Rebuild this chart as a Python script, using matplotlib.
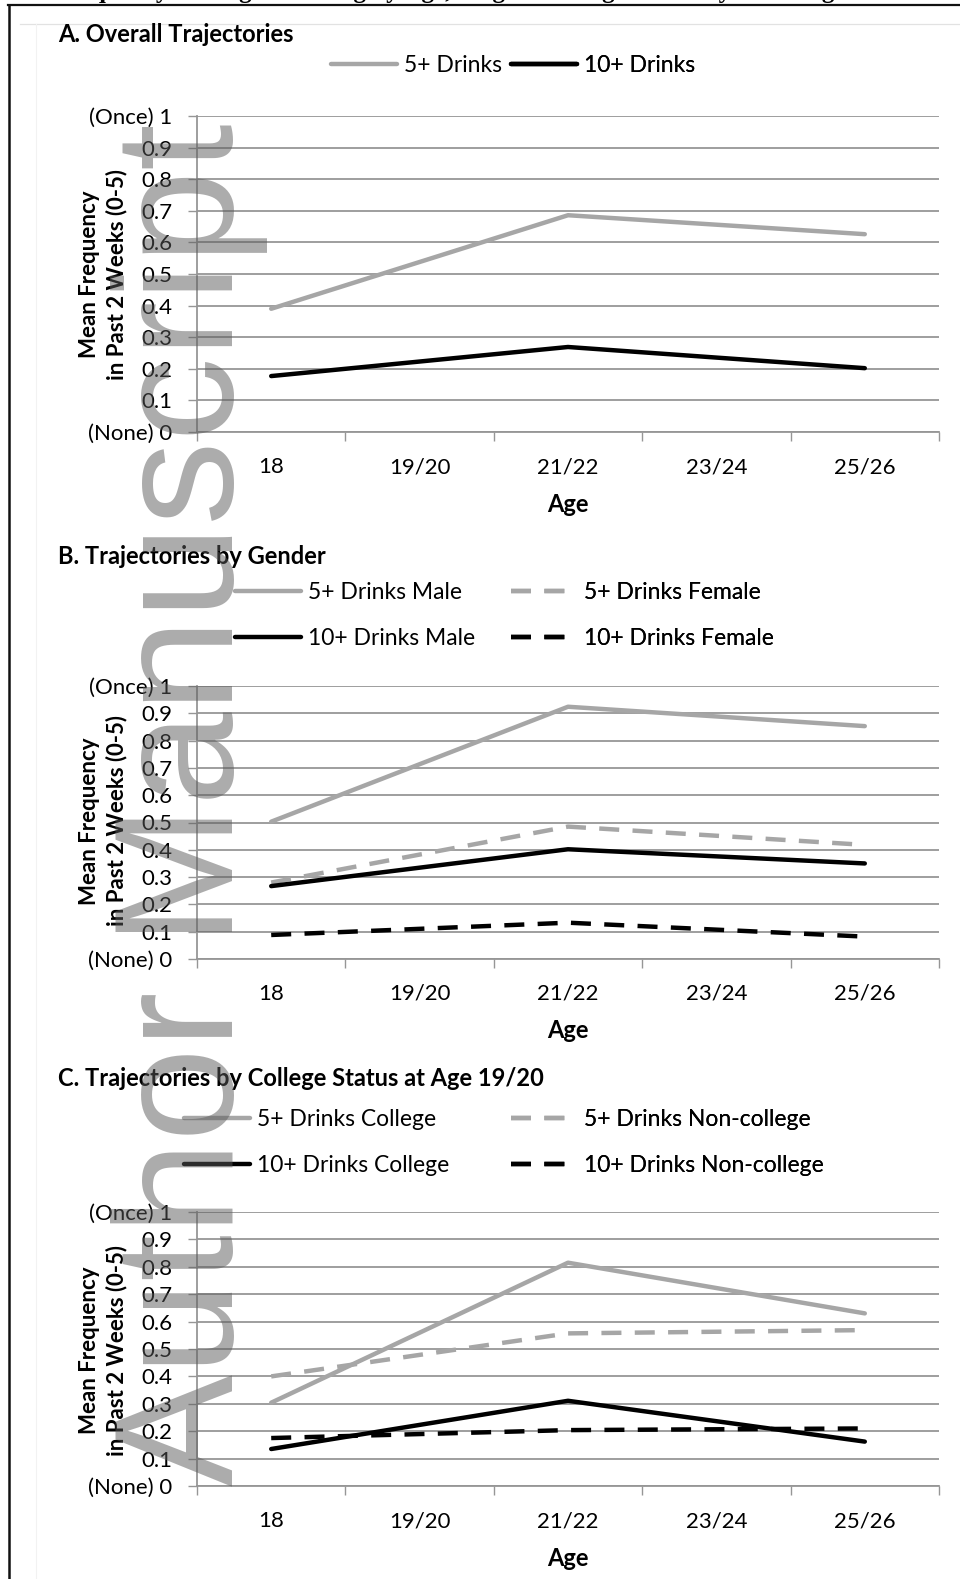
import numpy as np
import matplotlib
matplotlib.use('Agg')
import matplotlib.pyplot as plt
from matplotlib.lines import Line2D

W, H = 960, 1579

# age categories on the x axis, and the survey waves that carry data
ages = ['18', '19/20', '21/22', '23/24', '25/26']
waves = ['18', '21/22', '25/26']

ytick_vals = [0, 0.1, 0.2, 0.3, 0.4, 0.5, 0.6, 0.7, 0.8, 0.9, 1]
ytick_text = ['(None) 0', '0.1', '0.2', '0.3', '0.4', '0.5', '0.6', '0.7', '0.8', '0.9', '(Once) 1']

# A. overall
a_5plus = [0.39, 0.686, 0.626]
a_10plus = [0.177, 0.269, 0.202]

# B. by gender
b_5_male = [0.503, 0.924, 0.853]
b_5_female = [0.28, 0.485, 0.418]
b_10_male = [0.267, 0.402, 0.35]
b_10_female = [0.088, 0.133, 0.082]

# C. by college status at 19/20
c_5_college = [0.304, 0.815, 0.63]
c_5_noncol = [0.40, 0.557, 0.569]
c_10_college = [0.135, 0.311, 0.162]
c_10_noncol = [0.175, 0.204, 0.21]

GRAY = '#a6a6a6'
BLACK = '#000000'
GRID = '#969696'
DASH = (0, (4.5, 3.0))
FONT = 'Lato'

plt.rcParams['font.family'] = [FONT, 'DejaVu Sans']


def fx(px):
    return px / W


def fy(py):
    return 1 - py / H


def make_axes(fig, top, bottom, left=197, right=939):
    ax = fig.add_axes([fx(left), fy(bottom), (right - left) / W, (bottom - top) / H])
    ax.set_xlim(-0.5, len(ages) - 0.5)
    ax.set_ylim(0, 1)
    for side in ('top', 'right'):
        ax.spines[side].set_visible(False)
    for side in ('left', 'bottom'):
        ax.spines[side].set_color(GRID)
        ax.spines[side].set_linewidth(1.3)
    ax.set_yticks(ytick_vals)
    ax.set_yticklabels(ytick_text, fontsize=16)
    ax.tick_params(axis='y', length=6.5, width=1.0, color=GRID, pad=11)
    ax.yaxis.grid(True, color=GRID, linewidth=1.3)
    ax.set_axisbelow(True)
    # boundaries between categories get ticks, the labels sit on the centres
    ax.set_xticks(np.arange(len(ages) + 1) - 0.5)
    ax.set_xticklabels([])
    ax.tick_params(axis='x', which='major', length=6.5, width=1.0, color=GRID)
    ax.set_xticks(np.arange(len(ages)), minor=True)
    ax.set_xticklabels(ages, minor=True, fontsize=16)
    ax.tick_params(axis='x', which='minor', length=0, pad=18)
    return ax


def draw(ax, values, color, dashed=False):
    xs = [ages.index(w) for w in waves]
    kw = dict(color=color, linewidth=3.2, solid_capstyle='round', solid_joinstyle='round')
    if dashed:
        kw.update(linestyle=DASH, dash_capstyle='butt')
    return ax.plot(xs, values, **kw)[0]


def legend_col(ax, handles, labels, x, y_top, spacing=1.0):
    leg = ax.legend(handles, labels, loc='upper left',
                    bbox_to_anchor=(fx(x), fy(y_top)), bbox_transform=ax.figure.transFigure,
                    frameon=False, fontsize=16.5, handlelength=2.9, handletextpad=0.3,
                    borderpad=0, borderaxespad=0, labelspacing=spacing)
    ax.add_artist(leg)
    return leg


def side_text(fig, yc, ya):
    fig.text(fx(103), fy(yc), 'Mean Frequency\nin Past 2 Weeks (0-5)', rotation=90,
             ha='center', va='center', multialignment='center', fontsize=16,
             fontweight='bold', linespacing=1.3)
    fig.text(fx(568), fy(ya), 'Age', ha='center', va='center', fontsize=17, fontweight='bold')


fig = plt.figure(figsize=(W / 100, H / 100), dpi=100)

# page framing: cut-off caption line above, black rule, faint chart border
fig.text(fx(55), fy(-2), 'Frequency of Binge Drinking by Age, Single and High-Intensity Drinking',
         family='Liberation Serif', fontweight='bold', fontsize=18, va='baseline', ha='left')
fig.add_artist(Line2D([fx(8), 1], [fy(5), fy(5)], color='#111111', linewidth=1.6))
fig.add_artist(Line2D([fx(9), fx(9)], [fy(5), 0], color='#111111', linewidth=1.8))
fig.add_artist(Line2D([fx(20), 1], [fy(24), fy(24)], color='#e2e2e2', linewidth=0.9))
fig.add_artist(Line2D([fx(36), fx(36)], [fy(24), 0], color='#f2f2f2', linewidth=0.8))

# ---- Panel A
axA = make_axes(fig, 116, 432)
hA5 = draw(axA, a_5plus, GRAY)
hA10 = draw(axA, a_10plus, BLACK)
fig.text(fx(58), fy(35), 'A. Overall Trajectories', fontsize=17, fontweight='bold', va='center')
legend_col(axA, [hA5], ['5+ Drinks'], 331, 55)
legend_col(axA, [hA10], ['10+ Drinks'], 511, 55)
side_text(fig, 274, 505)

# ---- Panel B
axB = make_axes(fig, 686, 959)
hB5m = draw(axB, b_5_male, GRAY)
hB5f = draw(axB, b_5_female, GRAY, dashed=True)
hB10m = draw(axB, b_10_male, BLACK)
hB10f = draw(axB, b_10_female, BLACK, dashed=True)
fig.text(fx(58), fy(556), 'B. Trajectories by Gender', fontsize=17, fontweight='bold', va='center')
legend_col(axB, [hB5m, hB10m], ['5+ Drinks Male', '10+ Drinks Male'], 235, 582, 1.1)
legend_col(axB, [hB5f, hB10f], ['5+ Drinks Female', '10+ Drinks Female'], 511, 582, 1.1)
side_text(fig, 821, 1031)

# ---- Panel C
axC = make_axes(fig, 1212, 1486)
hC5c = draw(axC, c_5_college, GRAY)
hC5n = draw(axC, c_5_noncol, GRAY, dashed=True)
hC10c = draw(axC, c_10_college, BLACK)
hC10n = draw(axC, c_10_noncol, BLACK, dashed=True)
fig.text(fx(58), fy(1079), 'C. Trajectories by College Status at Age 19/20', fontsize=17,
         fontweight='bold', va='center')
legend_col(axC, [hC5c, hC10c], ['5+ Drinks College', '10+ Drinks College'], 184, 1109, 1.1)
legend_col(axC, [hC5n, hC10n], ['5+ Drinks Non-college', '10+ Drinks Non-college'], 511, 1109, 1.1)
side_text(fig, 1350, 1559)

# repository stamp running up the left side
fig.text(fx(233), fy(1486), 'Author Manuscript', rotation=90, rotation_mode='anchor',
         ha='left', va='baseline', family='Liberation Sans', fontsize=121,
         color='#5a5a5a', alpha=0.5, zorder=10)

fig.savefig('out.png', dpi=100)
